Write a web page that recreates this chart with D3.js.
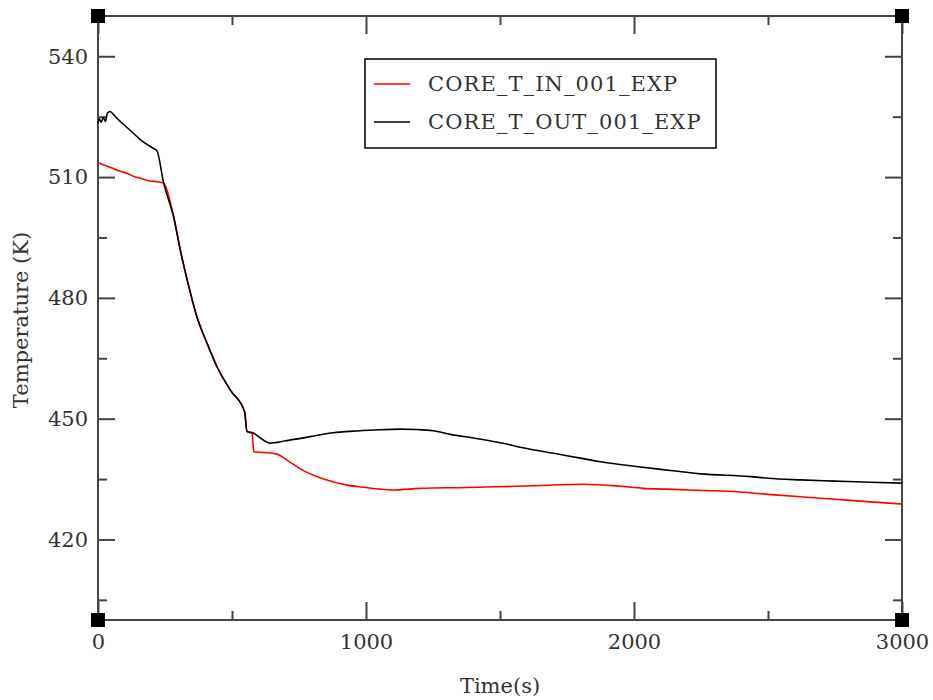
<!DOCTYPE html>
<html>
<head>
<meta charset="utf-8">
<script src="https://cdn.jsdelivr.net/npm/d3@7"></script>
<style>
  body { margin: 0; background: #fff; }
  text { font-family: 'DejaVu Serif', 'Liberation Serif', serif; fill: #333; }
</style>
</head>
<body>
<div id="chart"></div>
<script>
const timeIn = [0, 10, 30, 50, 80, 110, 140, 158, 190, 215, 232, 245, 282, 307, 336, 369, 407, 444, 494, 547, 556, 575, 581, 620, 668, 705, 767, 842, 929, 1000, 1053, 1103, 1203, 1377, 1501, 1650, 1810, 1936, 2035, 2123, 2200, 2370, 2500, 2621, 2750, 2869, 3000]
const tempIn = [513.6, 513.3, 512.8, 512.3, 511.5, 510.9, 510.0, 509.7, 509.1, 508.9, 508.7, 508.5, 500.2, 491.9, 483.6, 475.3, 468.7, 462.9, 457.1, 451.7, 446.8, 446.4, 441.8, 441.6, 441.2, 439.7, 437.1, 435.0, 433.5, 432.9, 432.5, 432.3, 432.7, 432.9, 433.1, 433.4, 433.7, 433.3, 432.7, 432.5, 432.3, 431.9, 431.2, 430.6, 430.0, 429.4, 428.8]

const timeOut = [0, 5, 12, 20, 28, 35, 45, 60, 80, 100, 130, 160, 190, 205, 220, 245, 282, 307, 336, 369, 407, 444, 494, 547, 556, 581, 610, 643, 700, 755, 820, 878, 950, 1035, 1128, 1191, 1250, 1315, 1400, 1501, 1600, 1700, 1800, 1875, 2000, 2100, 2248, 2435, 2500, 2621, 2750, 2880, 3000]
const tempOut = [523.4, 524.5, 523.6, 524.8, 523.8, 525.9, 526.3, 525.4, 524.0, 522.8, 521.0, 519.2, 517.8, 517.2, 516.5, 508.5, 500.2, 491.9, 483.6, 475.3, 468.7, 462.9, 457.1, 451.7, 446.8, 446.4, 445.0, 443.9, 444.5, 445.1, 445.9, 446.5, 446.9, 447.2, 447.4, 447.3, 447.0, 446.1, 445.2, 444.0, 442.6, 441.4, 440.2, 439.3, 438.2, 437.4, 436.3, 435.6, 435.2, 434.8, 434.5, 434.2, 434.0]

const seriesNames = ['CORE_T_IN_001_EXP', 'CORE_T_OUT_001_EXP']
const seriesColors = ['#ff0000', '#000000']

const xMajor = [0, 1000, 2000, 3000]
const xMinor = [500, 1500, 2500]
const yMajor = [420, 450, 480, 510, 540]
const yMinor = [405, 435, 465, 495, 525]

const W = 933
const H = 700
const margin = { left: 98, top: 16, right: 31, bottom: 80 }
const width = W - margin.left - margin.right
const height = H - margin.top - margin.bottom

const svg = d3.select('#chart')
  .append('svg')
  .attr('width', W)
  .attr('height', H)

const g = svg.append('g')
  .attr('transform', `translate(${margin.left},${margin.top})`)

const x = d3.scaleLinear().domain([0, 3000]).range([0, width])
const y = d3.scaleLinear().domain([400, 550]).range([height, 0])

// inward ticks on all four sides
function addAxis (axis, tx, ty, labels) {
  const a = g.append('g')
    .attr('transform', `translate(${tx},${ty})`)
    .call(axis)
  a.select('.domain').remove()
  a.selectAll('line').attr('stroke', '#444').attr('stroke-width', 2)
  if (!labels) a.selectAll('text').remove()
  else a.selectAll('text').attr('font-size', 21).attr('fill', '#333').attr('font-family', null)
  return a
}

addAxis(d3.axisBottom(x).tickValues(xMajor).tickSize(-18).tickSizeOuter(0).tickPadding(14).tickFormat(d3.format('d')), 0, height, true)
addAxis(d3.axisBottom(x).tickValues(xMinor).tickSize(-9).tickSizeOuter(0), 0, height, false)
addAxis(d3.axisTop(x).tickValues(xMajor).tickSize(-18).tickSizeOuter(0), 0, 0, false)
addAxis(d3.axisTop(x).tickValues(xMinor).tickSize(-9).tickSizeOuter(0), 0, 0, false)
addAxis(d3.axisLeft(y).tickValues(yMajor).tickSize(-17).tickSizeOuter(0).tickPadding(10), 0, 0, true)
addAxis(d3.axisLeft(y).tickValues(yMinor).tickSize(-9).tickSizeOuter(0), 0, 0, false)
addAxis(d3.axisRight(y).tickValues(yMajor).tickSize(-17).tickSizeOuter(0), width, 0, false)
addAxis(d3.axisRight(y).tickValues(yMinor).tickSize(-9).tickSizeOuter(0), width, 0, false)

// frame
g.append('rect')
  .attr('width', width)
  .attr('height', height)
  .attr('fill', 'none')
  .attr('stroke', '#444')
  .attr('stroke-width', 2)

const line = d3.line()
  .x(d => x(d[0]))
  .y(d => y(d[1]))
  .curve(d3.curveMonotoneX)

const series = [
  d3.zip(timeIn, tempIn),
  d3.zip(timeOut, tempOut)
]

// draw IN first, OUT on top like the original
g.selectAll('path.series')
  .data(series)
  .enter()
  .append('path')
  .attr('class', 'series')
  .attr('d', line)
  .attr('fill', 'none')
  .attr('stroke', (d, i) => seriesColors[i])
  .attr('stroke-width', 1.6)
  .attr('stroke-linejoin', 'round')

// corner squares
const corners = [[0, 0], [width, 0], [0, height], [width, height]]
g.selectAll('rect.corner')
  .data(corners)
  .enter()
  .append('rect')
  .attr('class', 'corner')
  .attr('x', d => d[0] - 7)
  .attr('y', d => d[1] - 7)
  .attr('width', 14)
  .attr('height', 14)
  .attr('fill', '#000')

// axis titles
svg.append('text')
  .attr('x', margin.left + width / 2)
  .attr('y', 693)
  .attr('text-anchor', 'middle')
  .attr('font-size', 21)
  .text('Time(s)')

svg.append('text')
  .attr('transform', `translate(28,${margin.top + height / 2 + 2}) rotate(-90)`)
  .attr('text-anchor', 'middle')
  .attr('font-size', 21)
  .text('Temperature (K)')

// legend
const legend = svg.append('g').attr('transform', 'translate(365,59)')
legend.append('rect')
  .attr('width', 351)
  .attr('height', 89)
  .attr('fill', '#fff')
  .attr('stroke', '#000')
  .attr('stroke-width', 1.5)

seriesNames.forEach((name, i) => {
  const row = legend.append('g').attr('transform', `translate(0,${25 + i * 38})`)
  row.append('line')
    .attr('x1', 9).attr('x2', 45)
    .attr('stroke', seriesColors[i])
    .attr('stroke-width', 1.5)
  row.append('text')
    .attr('x', 63)
    .attr('dy', '0.35em')
    .attr('font-size', 21)
    .attr('letter-spacing', 1.1)
    .text(name)
})
</script>
</body>
</html>
